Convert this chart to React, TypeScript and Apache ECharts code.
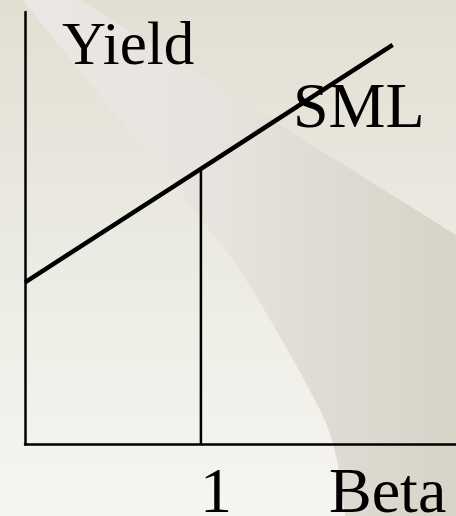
import React, { useEffect, useRef } from "react";
import * as echarts from "echarts";

// Data
const betaRange = [0, 2.45];
const yieldRange = [0, 16];
const smlBeta = [0, 1, 2.09];
const smlYield = [6.0, 10.2, 14.78];
const marketBeta = [1, 1];
const marketLineYield = [0, 10.2];
const labels = { y: "Yield", x: "Beta", line: "SML", tick: "1" };

const swooshPath =
  "M22,0 L80,0 L456,235 L456,516 L345,516 C340,470 335,440 320,410 C300,370 260,300 233,260 C200,215 120,120 22,0 Z";
echarts.graphic.registerShape("swoosh", echarts.graphic.extendPath(swooshPath, {}));

const FONT = '"Liberation Serif", "Times New Roman", serif';

export default function App() {
  const ref = useRef<HTMLDivElement>(null);
  useEffect(() => {
    if (!ref.current) return;
    const chart = echarts.init(ref.current, null, { renderer: "svg" });
    const textStyle = (s: any) => ({
      fontFamily: FONT,
      fontSize: 64,
      fill: "#000",
      verticalAlign: "middle",
      ...s,
    });
    chart.setOption({
      animation: false,
      graphic: [
        {
          type: "rect",
          z: -20,
          silent: true,
          shape: { x: 0, y: 0, width: 456, height: 516 },
          style: {
            fill: new echarts.graphic.LinearGradient(0, 0, 0, 1, [
              { offset: 0, color: "#e2dfd2" },
              { offset: 0.5, color: "#ecebe3" },
              { offset: 1, color: "#f6f5f1" },
            ]),
          },
        },
        {
          type: "swoosh",
          z: -19,
          silent: true,
          x: 0,
          y: 0,
          style: {
            fill: new echarts.graphic.LinearGradient(0, 0, 1, 0, [
              { offset: 0, color: "#ebe7e4" },
              { offset: 0.45, color: "#e7e3de" },
              { offset: 1, color: "#d7d3c7" },
            ]),
          },
        },
        { type: "text", z: 10, x: 62, y: 43, style: textStyle({ text: labels.y, fontSize: 61 }) },
        { type: "text", z: 10, x: 293, y: 105, style: textStyle({ text: labels.line }) },
        { type: "text", z: 10, x: 216, y: 490, style: textStyle({ text: labels.tick, align: "center" }) },
        { type: "text", z: 10, x: 329, y: 490, style: textStyle({ text: labels.x }) },
      ],
      grid: { left: 25, top: 12, width: 431, height: 432.5, containLabel: false },
      xAxis: {
        type: "value",
        min: betaRange[0],
        max: betaRange[1],
        axisLine: { show: true, onZero: false, lineStyle: { color: "#000", width: 2.5 } },
        axisTick: { show: false },
        axisLabel: { show: false },
        splitLine: { show: false },
      },
      yAxis: {
        type: "value",
        min: yieldRange[0],
        max: yieldRange[1],
        axisLine: { show: true, onZero: false, lineStyle: { color: "#000", width: 2.5 } },
        axisTick: { show: false },
        axisLabel: { show: false },
        splitLine: { show: false },
      },
      series: [
        {
          type: "line",
          data: smlBeta.map((b, i) => [b, smlYield[i]]),
          showSymbol: false,
          symbol: "none",
          lineStyle: { color: "#000", width: 4.5, cap: "butt" },
          z: 5,
        },
        {
          type: "line",
          data: marketBeta.map((b, i) => [b, marketLineYield[i]]),
          showSymbol: false,
          symbol: "none",
          lineStyle: { color: "#000", width: 2.5 },
          z: 4,
        },
      ],
    });
    return () => chart.dispose();
  }, []);
  return (
    <div
      ref={ref}
      style={{ position: "fixed", left: 0, top: 0, width: 456, height: 516 }}
    />
  );
}
